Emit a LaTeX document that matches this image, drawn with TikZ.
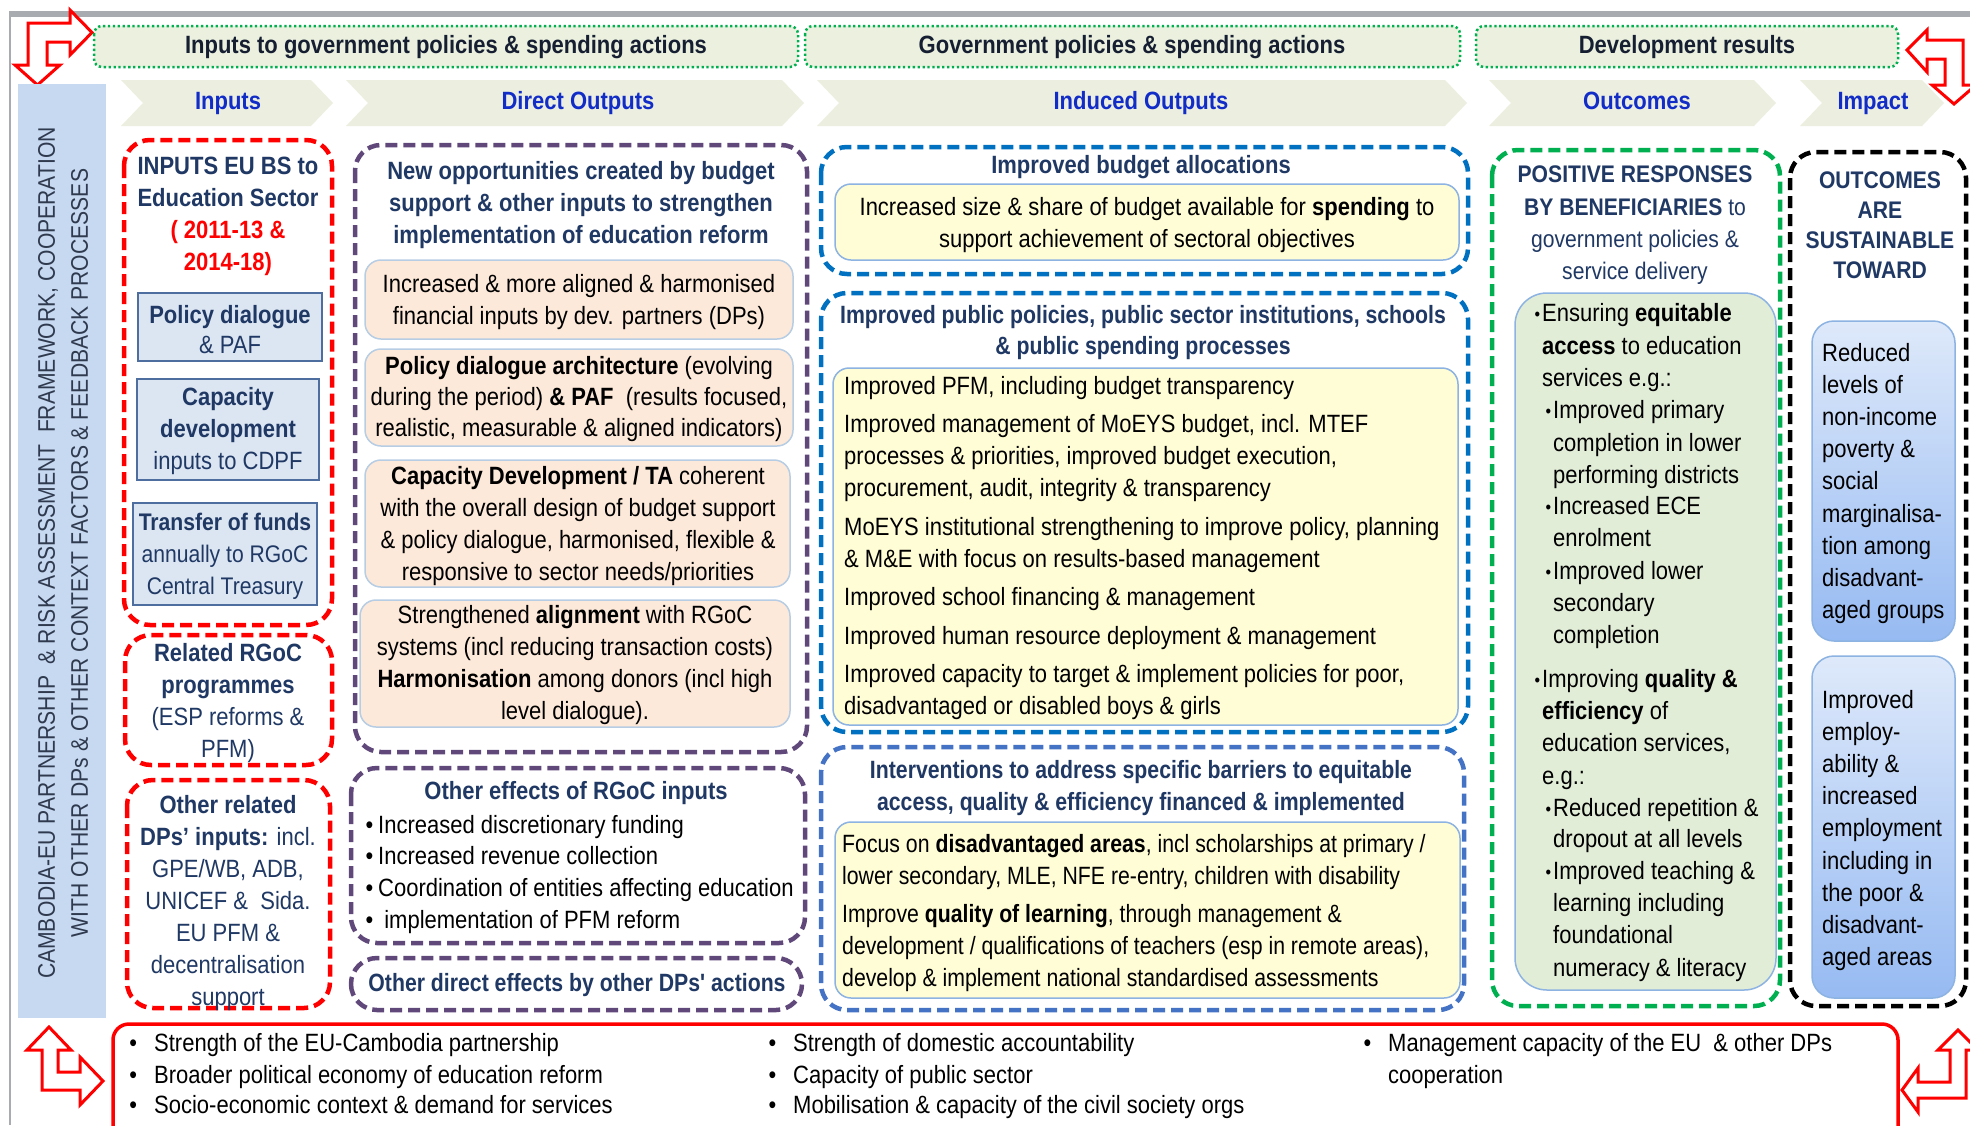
\documentclass[tikz,border=0pt]{standalone}
\usepackage{fontspec}
\setmainfont{Liberation Sans}[FakeStretch=0.88]
\newfontfamily\nf{Liberation Sans}[FakeStretch=0.85]
\definecolor{navy}{RGB}{31,56,100}
\definecolor{chevblue}{RGB}{18,44,200}
\definecolor{hdrtext}{RGB}{22,30,50}
\definecolor{hdrfill}{RGB}{235,241,222}
\definecolor{chevfill}{RGB}{236,239,224}
\definecolor{hgreen}{RGB}{0,176,80}
\definecolor{purp}{RGB}{96,73,122}
\definecolor{dblue}{RGB}{0,112,192}
\definecolor{dbluetwo}{RGB}{68,114,196}
\definecolor{peach}{RGB}{253,233,217}
\definecolor{pborder}{RGB}{183,205,228}
\definecolor{yfill}{RGB}{255,253,214}
\definecolor{yborder}{RGB}{141,179,226}
\definecolor{lfill}{RGB}{220,230,242}
\definecolor{lborder}{RGB}{79,110,160}
\definecolor{gfill}{RGB}{226,237,216}
\definecolor{bandfill}{RGB}{198,217,241}
\definecolor{bandtext}{RGB}{48,58,78}
\definecolor{framegray}{RGB}{168,172,176}
\definecolor{itop}{RGB}{222,233,250}
\definecolor{ibot}{RGB}{150,186,242}
\newcommand{\sbul}{\llap{\raisebox{1pt}{\fontsize{18}{18}\selectfont •}\hspace{2pt}}}
\newcommand{\bbul}{\llap{•\hspace{5pt}}}
\newcommand{\wbul}{\llap{•\hspace{17pt}}}
\tikzset{
 txt/.style={inner sep=0pt, font=\fontsize{25}{32}\selectfont},
 oneln/.style={txt, text height=18pt, text depth=5pt},
 hdr/.style={draw=hgreen, fill=hdrfill, line width=2.5pt, dash pattern=on 2.3pt off 2.6pt, rounded corners=8pt},
 chev/.style={fill=chevfill},
 arr/.style={draw=red, fill=white, line width=3pt, line join=miter},
 dbox/.style={line width=4.5pt, dash pattern=on 12pt off 6pt, rounded corners=26pt},
 redbox/.style={dbox, draw=red},
 purbox/.style={dbox, draw=purp},
 bluebox/.style={dbox, draw=dblue},
 blueboxtwo/.style={dbox, draw=dbluetwo},
 grbox/.style={dbox, draw=hgreen},
 blkbox/.style={dbox, draw=black},
 lbox/.style={draw=lborder, fill=lfill, line width=1.5pt},
 pbox/.style={draw=pborder, fill=peach, line width=1.5pt, rounded corners=16pt},
 ybox/.style={draw=yborder, fill=yfill, line width=1.5pt, rounded corners=16pt},
 gbox/.style={draw=yborder, fill=gfill, line width=1.5pt, rounded corners=32pt},
 ibox/.style={draw=yborder, top color=itop, bottom color=ibot, line width=1.5pt, rounded corners=22pt},
 botbox/.style={draw=red, line width=3.5pt, rounded corners=16pt},
 hdrtxt/.style={oneln, font=\fontsize{25}{32}\selectfont\bfseries, text=hdrtext},
 chevtxt/.style={oneln, font=\fontsize{25}{32}\selectfont\bfseries, text=chevblue},
}
\begin{document}
\begin{tikzpicture}[x=1pt,y=-1pt]
\useasboundingbox (0,0) rectangle (1970,1125);
\clip (0,0) rectangle (1970,1125);
\fill[white] (0,0) rectangle (1970,1125);
% frame
\fill[framegray] (9,11) rectangle (1970,17);
\draw[framegray, line width=2pt] (10,11) -- (10,1125);

% corner arrows
\draw[arr] (28,23) -- (70,23) -- (70,10) -- (92,32.5) -- (70,55) -- (70,42) -- (47,42) -- (47,65) -- (60,65) -- (37.5,85) -- (15,65) -- (28,65) -- cycle;
\draw[arr] (1963,40) -- (1927,40) -- (1927,30) -- (1907,50) -- (1927,72) -- (1927,59) -- (1945,59) -- (1945,85) -- (1932,85) -- (1954,104) -- (1976,85) -- (1963,85) -- cycle;
\draw[arr] (42,1090) -- (42,1050) -- (27,1050) -- (49,1027) -- (71,1050) -- (58,1050) -- (58,1072) -- (80,1072) -- (80,1057) -- (103,1081) -- (80,1105) -- (80,1090) -- cycle;
\draw[arr] (1966,1098) -- (1918,1098) -- (1918,1112) -- (1902,1090) -- (1918,1068) -- (1918,1082) -- (1950,1082) -- (1950,1050) -- (1938,1050) -- (1958,1030) -- (1978,1050) -- (1966,1050) -- cycle;

% header boxes
\draw[hdr] (94,26) rectangle (798,67);
\node[hdrtxt] (h1) at (446,46.5) {Inputs to government policies \& spending actions};
\draw[hdr] (805,26) rectangle (1460,67);
\node[hdrtxt] (h2) at (1132,46.5) {Government policies \& spending actions};
\draw[hdr] (1476,26) rectangle (1898,67);
\node[hdrtxt] (h3) at (1687,46.5) {Development results};

% chevrons
\fill[chev] (121,80) -- (311,80) -- (333,103) -- (311,126) -- (121,126) -- (143,103) -- cycle;
\fill[chev] (346,80) -- (782,80) -- (804,103) -- (782,126) -- (346,126) -- (368,103) -- cycle;
\fill[chev] (817,80) -- (1445,80) -- (1467,103) -- (1445,126) -- (817,126) -- (839,103) -- cycle;
\fill[chev] (1489,80) -- (1754,80) -- (1776,103) -- (1754,126) -- (1489,126) -- (1511,103) -- cycle;
\fill[chev] (1800,80) -- (1922,80) -- (1944,103) -- (1922,126) -- (1800,126) -- (1822,103) -- cycle;
\node[chevtxt] (c1) at (228,103) {Inputs};
\node[chevtxt] (c2) at (578,103) {Direct Outputs};
\node[chevtxt] (c3) at (1141,103) {Induced Outputs};
\node[chevtxt] (c4) at (1637,103) {Outcomes};
\node[chevtxt] (c5) at (1873,103) {Impact};

% left band
\fill[bandfill] (18,84) rectangle (106,1018);
\node[txt, rotate=90, align=center, text=bandtext, font=\fontsize{24}{33}\selectfont] (band) at (63,553)
 {CAMBODIA-EU PARTNERSHIP \ \& RISK ASSESSMENT \ FRAMEWORK, COOPERATION\\WITH OTHER DPs \& OTHER CONTEXT FACTORS \& FEEDBACK PROCESSES};

% Inputs column
\draw[redbox] (124,140) rectangle (332,625);
\node[txt, align=center, text=navy] (inT) at (228,216)
 {\textbf{INPUTS EU BS to}\\\textbf{Education Sector}\\\textcolor{red}{\textbf{( 2011-13 \&}}\\\textcolor{red}{\textbf{2014-18)}}};
\draw[lbox] (138,293) rectangle (322,361);
\node[txt, align=center, text=navy, font=\fontsize{25}{30}\selectfont] (pd) at (230,330) {\textbf{Policy dialogue}\\\& PAF};
\draw[lbox] (137,379) rectangle (319,480);
\node[txt, align=center, text=navy] (cd) at (228,431) {\textbf{Capacity}\\\textbf{development}\\inputs to CDPF};
\draw[lbox] (133,503) rectangle (317,605);
\node[txt, align=center, text=navy, font=\fontsize{24}{32}\selectfont] (tf) at (225,556) {\textbf{Transfer of funds}\\annually to RGoC\\Central Treasury};
\draw[redbox] (125,635) rectangle (332,765);
\node[txt, align=center, text=navy] (rel) at (228,703) {\textbf{Related RGoC}\\\textbf{programmes}\\(ESP reforms \&\\PFM)};
\draw[redbox] (127,780) rectangle (330,1008);
\node[txt, align=center, text=navy] (oth) at (228,903)
 {\textbf{Other related}\\\textbf{DPs' inputs:} incl.\\GPE/WB, ADB,\\UNICEF \& \ Sida.\\EU PFM \&\\decentralisation\\support};

% Direct outputs
\draw[purbox] (355,145) rectangle (807,752);
\node[txt, align=center, text=navy, font=\fontsize{25}{32}\selectfont\bfseries] (dT) at (581,205)
 {New opportunities created by budget\\support \& other inputs to strengthen\\implementation of education reform};
\draw[pbox] (365,260) rectangle (793,339);
\node[txt, align=center] (d1) at (579,302) {Increased \& more aligned \& harmonised\\financial inputs by dev. partners (DPs)};
\draw[pbox] (365,349) rectangle (793,446);
\node[txt, align=center, font=\fontsize{25}{31}\selectfont] (d2) at (579,399)
 {\textbf{Policy dialogue architecture} (evolving\\during the period) \textbf{\& PAF} \ (results focused,\\realistic, measurable \& aligned indicators)};
\draw[pbox] (365,460) rectangle (790,587);
\node[txt, align=center] (d3) at (578,526)
 {\textbf{Capacity Development / TA} coherent\\with the overall design of budget support\\\& policy dialogue, harmonised, flexible \&\\responsive to sector needs/priorities};
\draw[pbox] (360,600) rectangle (790,727);
\node[txt, align=center] (d4) at (575,665)
 {Strengthened \textbf{alignment} with RGoC\\systems (incl reducing transaction costs)\\\textbf{Harmonisation} among donors (incl high\\level dialogue).};

\draw[purbox] (351,768) rectangle (805,943);
\node[oneln, text=navy, font=\fontsize{25}{32}\selectfont\bfseries] (oeT) at (576,793) {Other effects of RGoC inputs};
\node[oneln, anchor=west] (oe1) at (378,827) {\bbul Increased discretionary funding};
\node[oneln, anchor=west] (oe2) at (378,858) {\bbul Increased revenue collection};
\node[oneln, anchor=west] (oe3) at (378,890) {\bbul Coordination of entities affecting education};
\node[oneln, anchor=west] (oe4) at (378,922) {\bbul \ implementation of PFM reform};

\draw[purbox] (351,958) rectangle (802,1010);
\node[oneln, text=navy, font=\fontsize{25}{32}\selectfont\nf\bfseries] (odT) at (577,985) {Other direct effects by other DPs' actions};

% Induced outputs
\draw[bluebox] (821,147) rectangle (1468,274);
\node[oneln, text=navy, font=\fontsize{25}{32}\selectfont\bfseries] (iaT) at (1141,167) {Improved budget allocations};
\draw[ybox] (835,184) rectangle (1459,260);
\node[txt, align=center] (ia1) at (1147,225) {Increased size \& share of budget available for \textbf{spending} to\\support achievement of sectoral objectives};

\draw[bluebox] (821,293) rectangle (1468,732);
\node[txt, align=center, text=navy, font=\fontsize{25}{31}\selectfont\nf\bfseries] (ibT) at (1143,333)
 {Improved public policies, public sector institutions, schools\\\& public spending processes};
\draw[ybox] (833,368) rectangle (1458,725);
\node[txt, align=left, anchor=west] (ib1) at (844,548)
 {Improved PFM, including budget transparency\\[6.5pt]
  Improved management of MoEYS budget, incl. MTEF\\
  processes \& priorities, improved budget execution,\\
  procurement, audit, integrity \& transparency\\[6.5pt]
  MoEYS institutional strengthening to improve policy, planning\\
  \& M\&E with focus on results-based management\\[6.5pt]
  Improved school financing \& management\\[6.5pt]
  Improved human resource deployment \& management\\[6.5pt]
  Improved capacity to target \& implement policies for poor,\\
  disadvantaged or disabled boys \& girls};

\draw[blueboxtwo] (821,747) rectangle (1464,1010);
\node[txt, align=center, text=navy, font=\fontsize{25}{32}\selectfont\nf\bfseries] (icT) at (1141,788)
 {Interventions to address specific barriers to equitable\\access, quality \& efficiency financed \& implemented};
\draw[ybox] (835,822) rectangle (1460,998);
\node[txt, align=left, anchor=west, font=\fontsize{25}{32}\selectfont\nf] (ic1) at (842,913.5)
 {Focus on \textbf{disadvantaged areas}, incl scholarships at primary /\\
  lower secondary, MLE, NFE re-entry, children with disability\\[6pt]
  Improve \textbf{quality of learning}, through management \&\\
  development / qualifications of teachers (esp in remote areas),\\
  develop \& implement national standardised assessments};

% Outcomes
\draw[grbox] (1492,150) rectangle (1780,1006);
\node[txt, align=center, text=navy, font=\fontsize{24}{32.3}\selectfont] (oT) at (1635,225.5)
 {\textbf{POSITIVE RESPONSES}\\\textbf{BY BENEFICIARIES} to\\government policies \&\\service delivery};
\draw[gbox] (1515,293) rectangle (1776,990);
\node[oneln, anchor=west] (g1) at (1542,315) {\sbul Ensuring \textbf{equitable}};
\node[oneln, anchor=west] (g2) at (1542,348) {\textbf{access} to education};
\node[oneln, anchor=west] (g3) at (1542,380) {services e.g.:};
\node[oneln, anchor=west] (g4) at (1553,412) {\sbul Improved primary};
\node[oneln, anchor=west] (g5) at (1553,445) {completion in lower};
\node[oneln, anchor=west] (g6) at (1553,477) {performing districts};
\node[oneln, anchor=west] (g7) at (1553,508) {\sbul Increased ECE};
\node[oneln, anchor=west] (g8) at (1553,540) {enrolment};
\node[oneln, anchor=west] (g9) at (1553,573) {\sbul Improved lower};
\node[oneln, anchor=west] (g10) at (1553,605) {secondary};
\node[oneln, anchor=west] (g11) at (1553,637) {completion};
\node[oneln, anchor=west] (g12) at (1542,681) {\sbul Improving \textbf{quality \&}};
\node[oneln, anchor=west] (g13) at (1542,713) {\textbf{efficiency} of};
\node[oneln, anchor=west] (g14) at (1542,745) {education services,};
\node[oneln, anchor=west] (g15) at (1542,778) {e.g.:};
\node[oneln, anchor=west] (g16) at (1553,810) {\sbul Reduced repetition \&};
\node[oneln, anchor=west] (g17) at (1553,841) {dropout at all levels};
\node[oneln, anchor=west] (g18) at (1553,873) {\sbul Improved teaching \&};
\node[oneln, anchor=west] (g19) at (1553,905) {learning including};
\node[oneln, anchor=west] (g20) at (1553,937) {foundational};
\node[oneln, anchor=west] (g21) at (1553,970) {numeracy \& literacy};

% Impact
\draw[blkbox] (1790,152) rectangle (1966,1006);
\node[txt, align=center, text=navy, font=\fontsize{24}{30}\selectfont\bfseries] (iT) at (1880,225)
 {OUTCOMES\\ARE\\SUSTAINABLE\\TOWARD};
\draw[ibox] (1812,321) rectangle (1955,641);
\node[txt, align=left, anchor=west, font=\fontsize{25}{32.1}\selectfont] (im1) at (1822,483.5)
 {Reduced\\levels of\\non-income\\poverty \&\\social\\marginalisa-\\tion among\\disadvant-\\aged groups};
\draw[ibox] (1812,656) rectangle (1955,998);
\node[txt, align=left, anchor=west, font=\fontsize{25}{32.1}\selectfont] (im2) at (1822,830.5)
 {Improved\\employ-\\ability \&\\increased\\employment\\including in\\the poor \&\\disadvant-\\aged areas};

% bottom context box
\draw[botbox] (113,1024) rectangle (1898,1145);
\node[oneln, anchor=west] (b1) at (154,1045) {\wbul Strength of the EU-Cambodia partnership};
\node[oneln, anchor=west] (b2) at (154,1077) {\wbul Broader political economy of education reform};
\node[oneln, anchor=west] (b3) at (154,1107) {\wbul Socio-economic context \& demand for services};
\node[oneln, anchor=west] (b4) at (793,1045) {\wbul Strength of domestic accountability};
\node[oneln, anchor=west] (b5) at (793,1077) {\wbul Capacity of public sector};
\node[oneln, anchor=west] (b6) at (793,1107) {\wbul Mobilisation \& capacity of the civil society orgs};
\node[oneln, anchor=west] (b7) at (1388,1045) {\wbul Management capacity of the EU \ \& other DPs};
\node[oneln, anchor=west] (b8) at (1388,1077) {cooperation};
\end{tikzpicture}
\end{document}
